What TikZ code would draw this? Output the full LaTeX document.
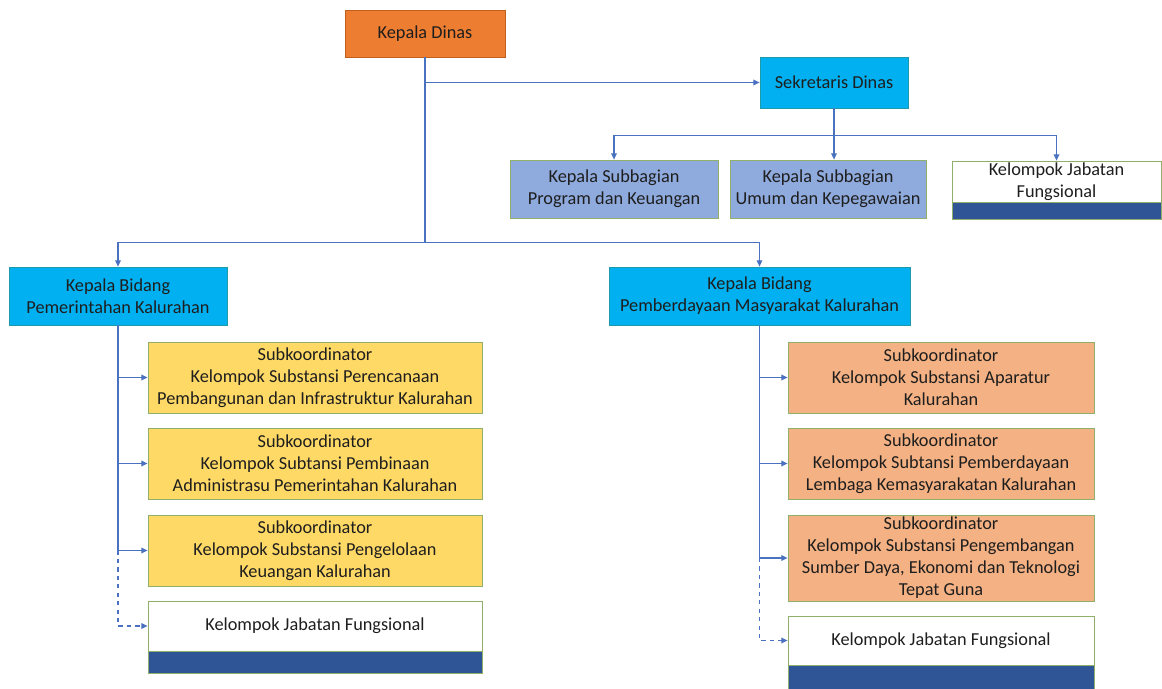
\documentclass[tikz,border=0pt]{standalone}
\usepackage{fontspec}
\setmainfont{Carlito}
\usepackage{tikz}
\usetikzlibrary{arrows.meta, positioning, calc}
\definecolor{kdorange}{HTML}{ED7D31}
\definecolor{kdline}{HTML}{C0601F}
\definecolor{cyanbox}{HTML}{00B0F0}
\definecolor{cyanline}{HTML}{1F9AA8}
\definecolor{subblue}{HTML}{8FAADC}
\definecolor{yellowbox}{HTML}{FFD966}
\definecolor{salmonbox}{HTML}{F4B183}
\definecolor{barblue}{HTML}{2F5597}
\definecolor{boxline}{HTML}{8FAF6A}
\definecolor{linkblue}{HTML}{4A72C0}
\definecolor{txt}{HTML}{1E1E1E}
\tikzset{
    box/.style = {rectangle, inner sep=0pt, align=center, text=txt, line width=0.5pt,
                  font=\fontsize{13pt}{15.6pt}\selectfont},% every box of the chart
    headbox/.style = {box, fill=kdorange, draw=kdline},
    cyanbox/.style = {box, fill=cyanbox, draw=cyanline},
    subbox/.style = {box, fill=subblue, draw=boxline},
    yelbox/.style = {box, fill=yellowbox, draw=boxline, minimum width=8.35cm, minimum height=1.775cm},
    salbox/.style = {box, fill=salmonbox, draw=boxline, minimum width=7.65cm, minimum height=1.775cm},
    funbox/.style = {box, fill=white, draw=boxline},
    funbar/.style = {rectangle, inner sep=0pt, fill=barblue, draw=boxline, line width=0.5pt},
    link/.style = {draw=linkblue, line width=0.9pt},
    arr/.style = {link, -{Triangle[length=4.5pt, width=4pt]}}
}
\begin{document}
\begin{tikzpicture}[x=0.025cm, y=-0.025cm]
    \useasboundingbox (0,0) rectangle (1162,689);
    % top level
    \node [headbox, minimum width=4cm, minimum height=1.175cm] (kd) at (425,33.5) {Kepala Dinas};
    \node [cyanbox, minimum width=3.7cm, minimum height=1.275cm] (sd) at (834,82.5) {Sekretaris Dinas};
    % sekretariat
    \node [subbox, minimum width=5.2cm, minimum height=1.45cm] (sbprog) at (614,189) {Kepala Subbagian\\Program dan Keuangan};
    \node [subbox, minimum width=4.9cm, minimum height=1.45cm] (sbumum) at (828,189) {Kepala Subbagian\\Umum dan Kepegawaian};
    \node [funbox, minimum width=5.225cm, minimum height=1.025cm] (jfsek) at (1056.5,181.5) {Kelompok Jabatan\\Fungsional};
    \node [funbar, minimum width=5.225cm, minimum height=0.425cm, below=0pt of jfsek] (jfsekbar) {};
    % bidang
    \node [cyanbox, minimum width=5.45cm, minimum height=1.45cm] (kbpem) at (118,296) {Kepala Bidang\\Pemerintahan Kalurahan};
    \node [cyanbox, minimum width=7.525cm, minimum height=1.45cm] (kbmas) at (759.5,296) {Kepala Bidang\\Pemberdayaan Masyarakat Kalurahan};
    % subkoordinator pemerintahan
    \node [yelbox] (pem1) at (315,377.5) {Subkoordinator\\Kelompok Substansi Perencanaan\\Pembangunan dan Infrastruktur Kalurahan};
    \node [yelbox] (pem2) at (315,463.5) {Subkoordinator\\Kelompok Subtansi Pembinaan\\Administrasu Pemerintahan Kalurahan};
    \node [yelbox] (pem3) at (315,550.5) {Subkoordinator\\Kelompok Substansi Pengelolaan\\Keuangan Kalurahan};
    \node [funbox, minimum width=8.35cm, minimum height=1.25cm] (jfpem) at (315,626) {Kelompok Jabatan Fungsional};
    \node [funbar, minimum width=8.35cm, minimum height=0.55cm, below=0pt of jfpem] (jfpembar) {};
    % subkoordinator pemberdayaan
    \node [salbox] (mas1) at (941,377.5) {Subkoordinator\\Kelompok Substansi Aparatur\\Kalurahan};
    \node [salbox] (mas2) at (941,463.5) {Subkoordinator\\Kelompok Subtansi Pemberdayaan\\Lembaga Kemasyarakatan Kalurahan};
    \node [salbox, minimum height=2.15cm] (mas3) at (941,558) {Subkoordinator\\Kelompok Substansi Pengembangan\\Sumber Daya, Ekonomi dan Teknologi\\Tepat Guna};
    \node [funbox, minimum width=7.65cm, minimum height=1.225cm] (jfmas) at (941,640.5) {Kelompok Jabatan Fungsional};
    \node [funbar, minimum width=7.65cm, minimum height=0.6cm, below=0pt of jfmas] (jfmasbar) {};
    % connectors
    \coordinate (jbid) at ($(kd.south)+(0,185)$);
    \coordinate (jsek) at ($(sd.south)+(0,27)$);
    \draw [link] (kd.south) -- (jbid);
    \draw [arr] (kd.south |- sd.west) -- (sd.west);
    \draw [arr] (jbid) -| (kbpem.north);
    \draw [arr] (jbid) -| (kbmas.north);
    \draw [link] (sd.south) -- (jsek);
    \draw [arr] (jsek) -| (sbprog.north);
    \draw [arr] (jsek) -- (jsek |- sbumum.north);
    \draw [arr] (jsek) -| (jfsek.north);
    \draw [link] (kbpem.south) -- (kbpem.south |- pem3.west);
    \foreach \n in {pem1, pem2, pem3}
        \draw [arr] (kbpem.south |- \n.west) -- (\n.west);
    \draw [arr, dashed] (kbpem.south |- pem3.west) |- (jfpem.west);
    \draw [link] (kbmas.south) -- (kbmas.south |- mas3.west);
    \foreach \n in {mas1, mas2, mas3}
        \draw [arr] (kbmas.south |- \n.west) -- (\n.west);
    \draw [arr, dashed] (kbmas.south |- mas3.west) |- (jfmas.west);
\end{tikzpicture}
\end{document}
